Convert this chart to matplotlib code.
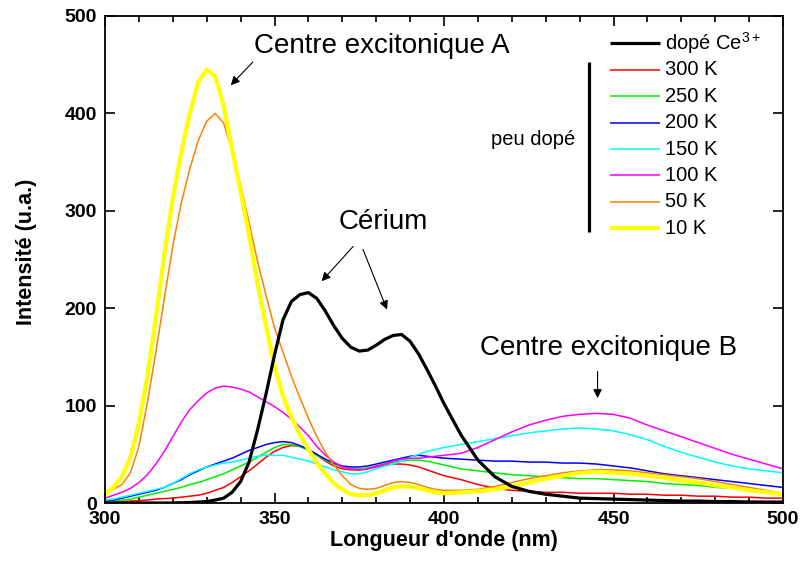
import matplotlib
matplotlib.use("Agg")
import matplotlib.pyplot as plt
import numpy as np

plt.rcParams['font.family'] = ['Liberation Sans', 'DejaVu Sans']
plt.rcParams['mathtext.fontset'] = 'custom'
plt.rcParams['mathtext.rm'] = 'Liberation Sans'
plt.rcParams['mathtext.default'] = 'regular'

# ---------------- data ----------------
wavelength = [300, 302.5, 305, 307.5, 310, 312.5, 315, 317.5, 320, 322.5,
              325, 327.5, 330, 332.5, 335, 337.5, 340, 342.5, 345, 347.5,
              350, 352.5, 355, 357.5, 360, 362.5, 365, 367.5, 370, 372.5,
              375, 377.5, 380, 382.5, 385, 387.5, 390, 392.5, 395, 397.5,
              400, 405, 410, 415, 420, 425, 430, 435, 440, 445,
              450, 455, 460, 465, 470, 475, 480, 485, 490, 495, 500]

ce_doped = [0, 0, 0, 0, 0, 0, 0, 0, 0, 0.3,
            0.5, 1, 1.5, 3, 5, 11, 22, 42, 75, 112,
            152, 188, 207, 214, 216, 210, 197, 182, 169, 160,
            156, 157, 162, 168, 172, 173, 166, 153, 137, 120,
            102, 70, 44, 27, 17, 12, 9, 7, 5, 4.5,
            4, 3.5, 3, 2.5, 2, 2, 1.5, 1.5, 1, 1, 1]

k300 = [0.5, 1, 1.5, 2, 2.5, 3, 4, 4.5, 5, 6,
        7, 8, 10, 13, 16, 21, 27, 33, 40, 47,
        53, 57, 59, 58, 55, 49, 43, 38, 35, 34,
        34, 35, 37, 39, 40, 40, 39, 37, 34, 31,
        28, 24, 19, 15, 13, 12, 11, 11, 10, 10,
        10, 9, 9, 8, 8, 7, 7, 6, 6, 5, 5]

k250 = [1, 2, 3, 4, 6, 8, 10, 12, 14, 16,
        19, 21, 24, 27, 30, 34, 38, 42, 47, 52,
        57, 60, 60, 58, 54, 49, 44, 40, 37, 35,
        35, 36, 38, 40, 42, 43, 44, 44, 43, 41,
        39, 35, 33, 31, 29, 28, 27, 26, 25, 25,
        24, 23, 22, 20, 19, 18, 16, 15, 13, 11, 10]

k200 = [2, 3, 5, 7, 9, 11, 13, 16, 20, 24,
        29, 33, 37, 40, 43, 46, 50, 54, 57, 60,
        62, 63, 62, 59, 55, 50, 45, 41, 38, 37,
        37, 38, 40, 42, 44, 46, 48, 49, 48, 47,
        46, 45, 44, 43, 43, 42, 42, 41, 41, 40,
        38, 36, 33, 30, 28, 26, 24, 22, 20, 18, 16]

k150 = [3, 4, 6, 8, 10, 12, 14, 16, 20, 25,
        30, 34, 37, 39, 41, 42, 44, 46, 48, 49,
        49, 49, 47, 45, 43, 40, 37, 34, 32, 30,
        30, 32, 35, 38, 40, 43, 47, 50, 53, 55,
        57, 60, 63, 66, 69, 72, 74, 76, 77, 76,
        74, 70, 65, 58, 52, 47, 42, 38, 35, 33, 31]

k100 = [5, 8, 11, 15, 21, 29, 40, 53, 68, 83,
        96, 105, 113, 118, 120, 119, 117, 114, 109, 104,
        99, 93, 86, 78, 69, 58, 49, 42, 37, 35,
        34, 35, 38, 40, 43, 45, 46, 46, 47, 48,
        49, 51, 57, 65, 73, 80, 85, 89, 91, 92,
        91, 87, 80, 74, 68, 62, 56, 50, 45, 40, 35]

k50 = [11, 14, 19, 31, 58, 103, 155, 210, 264, 308,
       343, 372, 392, 400, 390, 362, 327, 288, 248, 213,
       180, 155, 130, 108, 87, 68, 52, 39, 28, 19,
       15, 14, 15, 18, 21, 22, 21, 19, 16, 14,
       13, 13, 14, 17, 21, 25, 28, 31, 33, 34,
       34, 33, 31, 29, 27, 25, 22, 19, 16, 13, 10]

k10 = [9, 16, 27, 47, 82, 130, 190, 255, 313, 360,
       400, 432, 445, 438, 408, 363, 320, 275, 225, 182,
       140, 110, 88, 70, 55, 41, 30, 20, 14, 9,
       8, 8, 10, 13, 16, 17, 17, 15, 13, 11,
       10, 11, 12, 14, 17, 21, 25, 28, 31, 32,
       31, 30, 28, 26, 23, 21, 18, 16, 13, 11, 9]

series_labels = ['dopé Ce$^{3+}$', '300 K', '250 K', '200 K', '150 K',
                 '100 K', '50 K', '10 K']
series_values = [ce_doped, k300, k250, k200, k150, k100, k50, k10]
series_colors = ['#000000', '#ff0000', '#00ee00', '#0000ff', '#00ffff',
                 '#ff00ff', '#ff8000', '#ffff00']
series_widths = [2.3, 1.1, 1.1, 1.1, 1.1, 1.1, 1.1, 3.0]

x_ticks = [300, 350, 400, 450, 500]
y_ticks = [0, 100, 200, 300, 400, 500]

# ---------------- figure ----------------
fig = plt.figure(figsize=(8.03, 5.78), dpi=100)
ax = fig.add_axes([105 / 803, 1 - 503 / 578, 678 / 803, 487 / 578])

# colored series first, black on top
order = [1, 2, 3, 4, 5, 6, 7, 0]
for i in order:
    ax.plot(wavelength, series_values[i], color=series_colors[i],
            lw=series_widths[i], solid_joinstyle='round', zorder=2 + (i == 0))

ax.set_xlim(300, 500)
ax.set_ylim(0, 500)
ax.set_xticks(x_ticks)
ax.set_yticks(y_ticks)
ax.set_xticks(np.arange(300, 501, 10), minor=True)
ax.tick_params(axis='both', which='both', direction='in', top=True, right=True,
               width=1.2)
ax.tick_params(axis='both', which='major', length=7, labelsize=14, pad=6)
ax.tick_params(axis='both', which='minor', length=4)
for lab in ax.get_xticklabels() + ax.get_yticklabels():
    lab.set_fontweight('bold')
for sp in ax.spines.values():
    sp.set_linewidth(1.3)

ax.set_xlabel("Longueur d'onde (nm)", fontsize=15.5, fontweight='bold')
ax.set_ylabel("Intensité (u.a.)", fontsize=15.5, fontweight='bold')
ax.xaxis.set_label_coords(0.5, -0.055)
ax.yaxis.set_label_coords(-0.1, 0.515)

# ---------------- legend (manual) ----------------
row0 = 0.944
step = 0.0543
for k, (lab, col, lw) in enumerate(zip(series_labels, series_colors, series_widths)):
    yy = row0 - k * step
    ax.plot([0.745, 0.819], [yy, yy], transform=ax.transAxes, color=col,
            lw=lw, clip_on=False, solid_capstyle='butt')
    ax.text(0.826, yy, lab, transform=ax.transAxes, fontsize=14.5,
            va='center', ha='left')
ax.plot([0.714, 0.714], [0.905, 0.556], transform=ax.transAxes,
        color='black', lw=2.3, solid_capstyle='butt')
ax.text(0.631, 0.747, 'peu dopé', transform=ax.transAxes, fontsize=14.5,
        ha='center', va='center')

# ---------------- annotations ----------------
arrow_kw = dict(arrowstyle='-|>', color='black', lw=0.8, mutation_scale=13,
                shrinkA=0, shrinkB=0)
ax.text(381.7, 469, 'Centre excitonique A', fontsize=20, ha='center', va='center')
ax.annotate('', xy=(337.1, 429), xytext=(343.6, 452.7), arrowprops=arrow_kw)

ax.text(382, 289, 'Cérium', fontsize=20, ha='center', va='center')
ax.annotate('', xy=(363.9, 227.7), xytext=(373.2, 263.4), arrowprops=arrow_kw)
ax.annotate('', xy=(383.2, 198.6), xytext=(376.1, 260.3), arrowprops=arrow_kw)

ax.text(448.4, 159.5, 'Centre excitonique B', fontsize=20, ha='center', va='center')
ax.annotate('', xy=(445.3, 107.7), xytext=(445.3, 135), arrowprops=arrow_kw)

fig.savefig('out.png', dpi=100)
